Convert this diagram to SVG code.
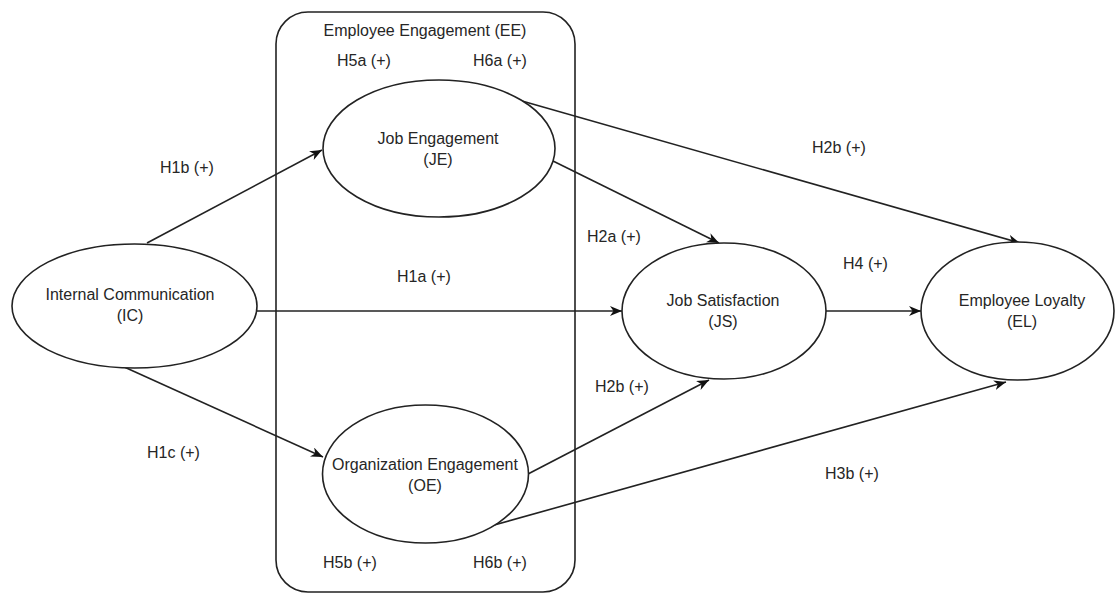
<svg xmlns="http://www.w3.org/2000/svg" width="1116" height="593" viewBox="0 0 1116 593">
<style>
.shape{fill:#fff;stroke:#222;stroke-width:1.6}
.box{fill:none;stroke:#222;stroke-width:1.6}
.edge{fill:none;stroke:#222;stroke-width:1.6}
text{font-family:"Liberation Sans",Arial,sans-serif;font-size:16px;fill:#262626;text-anchor:middle}
.lbl{text-anchor:start}
</style>
<defs>
<marker id="arr" markerUnits="userSpaceOnUse" markerWidth="14" markerHeight="12" refX="12" refY="5" orient="auto">
<path d="M0,0 L12,5 L0,10 L3.5,5 Z" fill="#111"/>
</marker>
</defs>
<rect width="1116" height="593" fill="#fff"/>
<g id="EE">
<rect class="box" x="276" y="12" width="299" height="580" rx="32" ry="32"/>
<text x="425" y="36">Employee Engagement (EE)</text>
</g>
<g id="connectors">
<line class="edge" x1="147" y1="243" x2="322" y2="150" marker-end="url(#arr)"/>
<line class="edge" x1="257" y1="311" x2="622" y2="311" marker-end="url(#arr)"/>
<line class="edge" x1="122" y1="366" x2="323" y2="457" marker-end="url(#arr)"/>
<line class="edge" x1="553" y1="161" x2="719" y2="243" marker-end="url(#arr)"/>
<line class="edge" x1="522" y1="101" x2="1020" y2="243" marker-end="url(#arr)"/>
<line class="edge" x1="826" y1="311" x2="921" y2="311" marker-end="url(#arr)"/>
<line class="edge" x1="528" y1="474" x2="709" y2="380" marker-end="url(#arr)"/>
<line class="edge" x1="487" y1="527" x2="1006" y2="382" marker-end="url(#arr)"/>
</g>
<g id="IC">
<ellipse class="shape" cx="134.5" cy="306" rx="122.5" ry="62"/>
<text x="130" y="300">Internal Communication</text>
<text x="130" y="321">(IC)</text>
</g>
<g id="JE">
<ellipse class="shape" cx="439" cy="148.5" rx="116" ry="68.5"/>
<text x="438" y="144">Job Engagement</text>
<text x="438" y="165">(JE)</text>
</g>
<g id="OE">
<ellipse class="shape" cx="425.5" cy="474" rx="103" ry="69"/>
<text x="425" y="470">Organization Engagement</text>
<text x="425" y="491">(OE)</text>
</g>
<g id="JS">
<ellipse class="shape" cx="724" cy="311" rx="102" ry="68"/>
<text x="723" y="306">Job Satisfaction</text>
<text x="723" y="327">(JS)</text>
</g>
<g id="EL">
<ellipse class="shape" cx="1017.5" cy="311" rx="96.5" ry="69"/>
<text x="1022" y="306">Employee Loyalty</text>
<text x="1022" y="327">(EL)</text>
</g>
<g id="labels">
<text class="lbl" x="337" y="66">H5a (+)</text>
<text class="lbl" x="473" y="66">H6a (+)</text>
<text class="lbl" x="160" y="173">H1b (+)</text>
<text class="lbl" x="812" y="153">H2b (+)</text>
<text class="lbl" x="587" y="242">H2a (+)</text>
<text class="lbl" x="397" y="282">H1a (+)</text>
<text class="lbl" x="843" y="269">H4 (+)</text>
<text class="lbl" x="595" y="392">H2b (+)</text>
<text class="lbl" x="147" y="458">H1c (+)</text>
<text class="lbl" x="825" y="479">H3b (+)</text>
<text class="lbl" x="323" y="568">H5b (+)</text>
<text class="lbl" x="473" y="568">H6b (+)</text>
</g>
</svg>
